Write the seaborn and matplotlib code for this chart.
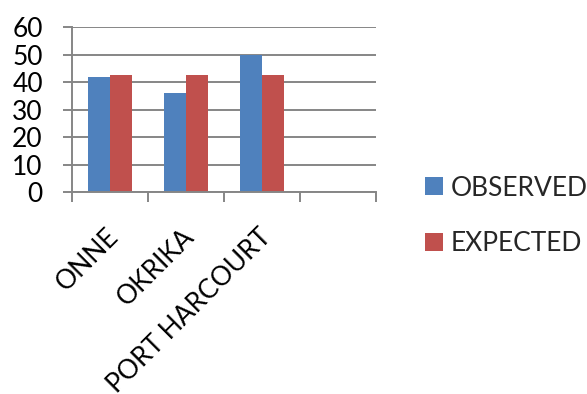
import matplotlib
matplotlib.use("Agg")
import matplotlib.pyplot as plt
import matplotlib.transforms as mtrans
import seaborn as sns
import pandas as pd
from matplotlib.patches import Patch

categories = ["ONNE", "OKRIKA", "PORT HARCOURT"]
series = ["OBSERVED", "EXPECTED"]
observed = [42, 36, 50]
expected = [42.7, 42.7, 42.7]
y_ticks = [0, 10, 20, 30, 40, 50, 60]
colors = ["#4F81BD", "#C0504D"]

df = pd.DataFrame({
    "location": categories * 2,
    "series": [series[0]] * len(categories) + [series[1]] * len(categories),
    "value": observed + expected,
})

sns.set_theme(style="white")
plt.rcParams["font.family"] = ["Lato", "DejaVu Sans"]
FS = 19
GRID = "#868686"

fig = plt.figure(figsize=(5.87, 3.94), dpi=100)
ax = fig.add_axes([72 / 587, 1 - 192.3 / 394, (376 - 72) / 587, (192.3 - 27.3) / 394])
sns.barplot(data=df, x="location", y="value", hue="series", hue_order=series,
            palette=colors, width=0.566, saturation=1, linewidth=0,
            ax=ax, legend=False)

ax.set_xlim(-0.5, len(categories) + 0.5)
ax.set_ylim(0, 60)
ax.set_yticks(y_ticks)
ax.set_yticklabels([str(t) for t in y_ticks], fontsize=FS, color="black")
ax.yaxis.grid(True, color=GRID, lw=1.4)
ax.set_axisbelow(True)

ax.set_xticks([i - 0.5 for i in range(len(categories) + 2)])
ax.set_xticklabels([])
ax.set_xticks(range(len(categories)), minor=True)
ax.set_xticklabels(categories, minor=True, rotation=45, ha="right", va="top",
                   rotation_mode="anchor", fontsize=FS, color="black")
ax.tick_params(axis="x", which="major", direction="out", length=7.5, width=1.4, color=GRID, bottom=True)
ax.tick_params(axis="x", which="minor", length=0, pad=23, bottom=True)
ax.tick_params(axis="y", direction="out", length=6.5, width=1.4, color=GRID, pad=14.5, left=True)

for s in ["top", "right"]:
    ax.spines[s].set_visible(False)
for s in ["left", "bottom"]:
    ax.spines[s].set_color(GRID)
    ax.spines[s].set_linewidth(1.4)
ax.set_xlabel("")
ax.set_ylabel("")

handles = [Patch(facecolor=c, edgecolor="none", label=l) for c, l in zip(colors, series)]
fig.legend(handles=handles, loc="center left", bbox_to_anchor=(425 / 587, 1 - 215.85 / 394),
           frameon=False, fontsize=FS, handlelength=0.68, handleheight=0.68,
           handletextpad=0.3, labelspacing=1.15, borderpad=0, borderaxespad=0)

fig.canvas.draw()
shift = mtrans.ScaledTranslation(-4 / 100, 0, fig.dpi_scale_trans)
for lbl in ax.get_xticklabels(minor=True):
    lbl.set_transform(lbl.get_transform() + shift)

fig.savefig("out.png", dpi=100)
